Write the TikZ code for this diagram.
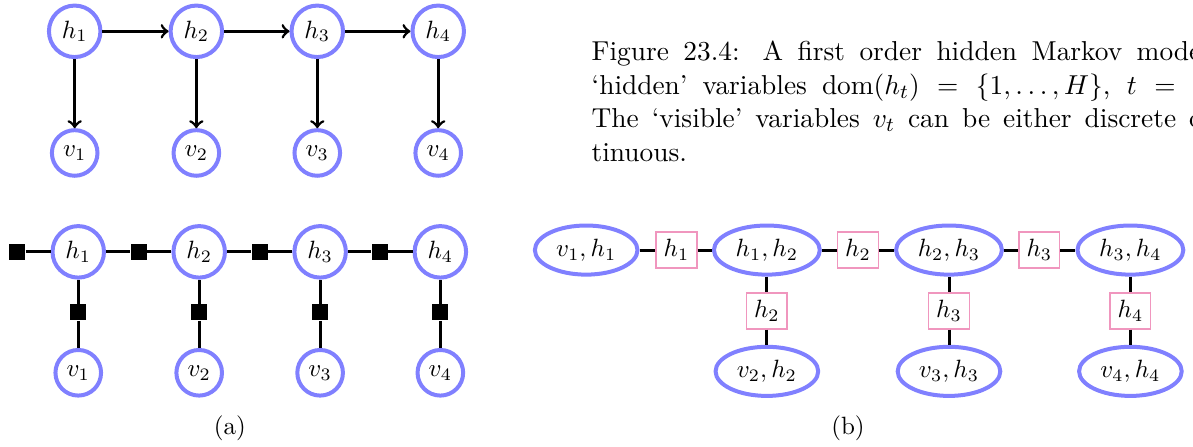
\documentclass[tikz,border=0pt]{standalone}
\usepackage{amsmath}
\usetikzlibrary{shapes.geometric}
\definecolor{nodeblue}{RGB}{128,128,255}
\definecolor{seppink}{RGB}{240,150,190}

\begin{document}
\begin{tikzpicture}[
        var/.style={circle, draw=nodeblue, line width=1.6pt, inner sep=2.6pt},
        clique/.style={ellipse, draw=nodeblue, line width=1.6pt, inner sep=2.5pt},
        sepset/.style={rectangle, draw=seppink, line width=0.6pt, inner sep=3pt},
        factor/.style={rectangle, fill=black, minimum size=6.4pt, inner sep=0pt},
        edge/.style={line width=1.2pt},
        arc/.style={line width=1.1pt, ->}
      ]
      \clip (0,0) rectangle (16.77,-6.28);
      % (a) belief network
      \node[var] (h1) at (1.05,-0.44) {$h_1$};
      \node[var] (h2) at (2.76,-0.44) {$h_2$};
      \node[var] (h3) at (4.46,-0.44) {$h_3$};
      \node[var] (h4) at (6.16,-0.44) {$h_4$};
      \node[var] (v1) at (1.05,-2.15) {$v_1$};
      \node[var] (v2) at (2.76,-2.15) {$v_2$};
      \node[var] (v3) at (4.46,-2.15) {$v_3$};
      \node[var] (v4) at (6.16,-2.15) {$v_4$};
      \draw[arc] (h1) -- (h2);
      \draw[arc] (h2) -- (h3);
      \draw[arc] (h3) -- (h4);
      \draw[arc] (h1) -- (v1);
      \draw[arc] (h2) -- (v2);
      \draw[arc] (h3) -- (v3);
      \draw[arc] (h4) -- (v4);
      % (a) factor graph
      \node[var] (fh1) at (1.10,-3.54) {$h_1$};
      \node[var] (fh2) at (2.80,-3.54) {$h_2$};
      \node[var] (fh3) at (4.50,-3.54) {$h_3$};
      \node[var] (fh4) at (6.19,-3.54) {$h_4$};
      \node[var] (fv1) at (1.10,-5.24) {$v_1$};
      \node[var] (fv2) at (2.80,-5.24) {$v_2$};
      \node[var] (fv3) at (4.50,-5.24) {$v_3$};
      \node[var] (fv4) at (6.19,-5.24) {$v_4$};
      \node[factor] (f0) at (0.24,-3.54) {};
      \node[factor] (f12) at (1.95,-3.54) {};
      \node[factor] (f23) at (3.65,-3.54) {};
      \node[factor] (f34) at (5.34,-3.54) {};
      \node[factor] (g1) at (1.10,-4.39) {};
      \node[factor] (g2) at (2.80,-4.39) {};
      \node[factor] (g3) at (4.50,-4.39) {};
      \node[factor] (g4) at (6.19,-4.39) {};
      \draw[edge] (f0) -- (fh1);
      \draw[edge] (fh1) -- (f12);
      \draw[edge] (f12) -- (fh2);
      \draw[edge] (fh2) -- (f23);
      \draw[edge] (f23) -- (fh3);
      \draw[edge] (fh3) -- (f34);
      \draw[edge] (f34) -- (fh4);
      \draw[edge] (fh1) -- (g1);
      \draw[edge] (g1) -- (fv1);
      \draw[edge] (fh2) -- (g2);
      \draw[edge] (g2) -- (fv2);
      \draw[edge] (fh3) -- (g3);
      \draw[edge] (g3) -- (fv3);
      \draw[edge] (fh4) -- (g4);
      \draw[edge] (g4) -- (fv4);
      \node (capa) at (3.23,-6.02) {(a)};
      % (b) junction tree
      \node[clique] (c1) at (8.24,-3.515) {$v_1,h_1$};
      \node[sepset] (s1) at (9.51,-3.515) {$h_1$};
      \node[clique] (c12) at (10.78,-3.515) {$h_1,h_2$};
      \node[sepset] (s2) at (12.06,-3.515) {$h_2$};
      \node[clique] (c23) at (13.34,-3.515) {$h_2,h_3$};
      \node[sepset] (s3) at (14.61,-3.515) {$h_3$};
      \node[clique] (c34) at (15.89,-3.515) {$h_3,h_4$};
      \node[sepset] (t2) at (10.78,-4.37) {$h_2$};
      \node[sepset] (t3) at (13.34,-4.37) {$h_3$};
      \node[sepset] (t4) at (15.89,-4.37) {$h_4$};
      \node[clique] (d2) at (10.78,-5.22) {$v_2,h_2$};
      \node[clique] (d3) at (13.34,-5.22) {$v_3,h_3$};
      \node[clique] (d4) at (15.89,-5.22) {$v_4,h_4$};
      \draw[edge] (c1) -- (s1);
      \draw[edge] (s1) -- (c12);
      \draw[edge] (c12) -- (s2);
      \draw[edge] (s2) -- (c23);
      \draw[edge] (c23) -- (s3);
      \draw[edge] (s3) -- (c34);
      \draw[edge] (c12) -- (t2);
      \draw[edge] (t2) -- (d2);
      \draw[edge] (c23) -- (t3);
      \draw[edge] (t3) -- (d3);
      \draw[edge] (c34) -- (t4);
      \draw[edge] (t4) -- (d4);
      \node (capb) at (11.92,-6.02) {(b)};
      % caption
      \node[anchor=north west, inner sep=0pt, text width=274pt, align=justify,
            font=\fontsize{10.95}{13.4}\selectfont] (cap) at (8.31,-0.57)
        {Figure 23.4: A first order hidden Markov model with\linebreak
         `hidden' variables $\mathrm{dom}(h_t)=\{1,\ldots,H\}$, $t=1:T$.\linebreak
         The `visible' variables $v_t$ can be either discrete or con-\linebreak
         tinuous.};
    \end{tikzpicture}
\end{document}
